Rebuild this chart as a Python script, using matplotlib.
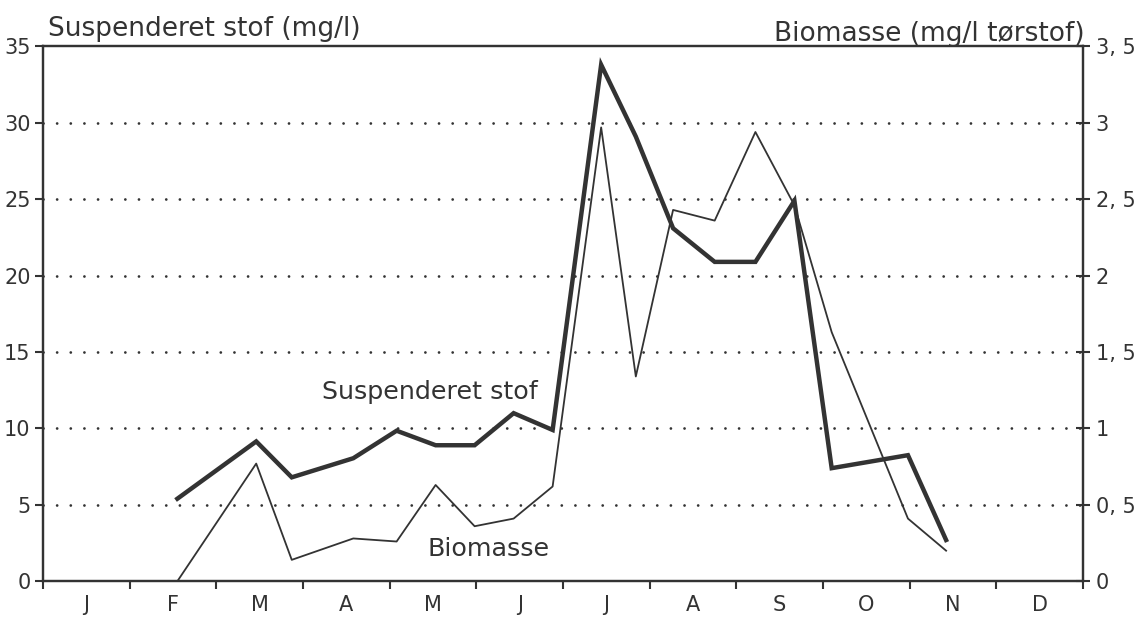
import matplotlib
matplotlib.use("Agg")
import matplotlib.pyplot as plt
from matplotlib.ticker import FixedLocator, NullFormatter

# ---- data ----
month_labels = ["J", "F", "M", "A", "M", "J", "J", "A", "S", "O", "N", "D"]
# sample dates in months since 1 Jan
sample_pos = [1.55, 2.46, 2.87, 3.58, 4.08, 4.53, 4.98, 5.43, 5.88,
              6.44, 6.84, 7.27, 7.75, 8.22, 8.67, 9.10, 9.98, 10.42]
suspenderet = [5.4, 9.15, 6.8, 8.05, 9.85, 8.9, 8.9, 11.0, 9.9,
               33.8, 29.1, 23.1, 20.9, 20.9, 24.9, 7.4, 8.25, 2.7]
biomasse = [0.0, 0.77, 0.14, 0.28, 0.26, 0.63, 0.36, 0.41, 0.62,
            2.97, 1.34, 2.43, 2.36, 2.94, 2.46, 1.63, 0.41, 0.20]
left_ticks = [0, 5, 10, 15, 20, 25, 30, 35]
right_ticks = [0, 0.5, 1, 1.5, 2, 2.5, 3, 3.5]
right_labels = ["0", "0, 5", "1", "1, 5", "2", "2, 5", "3", "3, 5"]
grid_levels = [5, 10, 15, 20, 25, 30]

plt.rcParams['font.family'] = ['DejaVu Sans']
ink = "#333333"

fig = plt.figure(figsize=(11.44, 6.19), dpi=100)
ax = fig.add_axes([0.0376, 0.061, 0.9091, 0.864])
ax.set_xlim(0, 12)
ax.set_ylim(0, 35)

# dotted grid
for g in grid_levels:
    ax.axhline(g, color=ink, lw=2.0, linestyle=(0, (0.01, 4.9)),
               dash_capstyle='round', zorder=1)

ax.plot(sample_pos, suspenderet, color=ink, lw=3.2, solid_joinstyle='miter', zorder=3)

ax2 = ax.twinx()
ax2.set_ylim(0, 3.5)
ax2.plot(sample_pos, biomasse, color=ink, lw=1.3, zorder=3)

# spines
for a in (ax, ax2):
    for s in a.spines.values():
        s.set_color(ink)
        s.set_linewidth(1.6)

# x axis: ticks at month boundaries, labels in the middle
ax.xaxis.set_major_locator(FixedLocator(list(range(0, 13))))
ax.xaxis.set_major_formatter(NullFormatter())
ax.xaxis.set_minor_locator(FixedLocator([i + 0.5 for i in range(12)]))
ax.set_xticklabels(month_labels, minor=True)
ax.tick_params(axis='x', which='major', direction='out', length=6, width=1.5, color=ink)
ax.tick_params(axis='x', which='minor', length=0, pad=10, labelsize=15, labelcolor=ink)

ax.set_yticks(left_ticks)
ax.set_yticklabels([str(t) for t in left_ticks])
ax.tick_params(axis='y', direction='out', length=6, width=1.5, color=ink,
               labelsize=15, labelcolor=ink, pad=3)

ax2.set_yticks(right_ticks)
ax2.set_yticklabels(right_labels)
ax2.tick_params(axis='y', direction='inout', length=10, width=1.5, color=ink,
                labelsize=15, labelcolor=ink, pad=4)

# axis titles
fig.text(0.042, 0.953, "Suspenderet stof (mg/l)", fontsize=19, color=ink,
         ha='left', va='center')
fig.text(0.948, 0.945, "Biomasse (mg/l tørstof)", fontsize=19, color=ink,
         ha='right', va='center')

# line labels
ax.text(3.22, 12.4, "Suspenderet stof", fontsize=18.3, color=ink, ha='left', va='center')
ax.text(4.44, 2.1, "Biomasse", fontsize=18.3, color=ink, ha='left', va='center')

fig.savefig("out.png", dpi=100)
